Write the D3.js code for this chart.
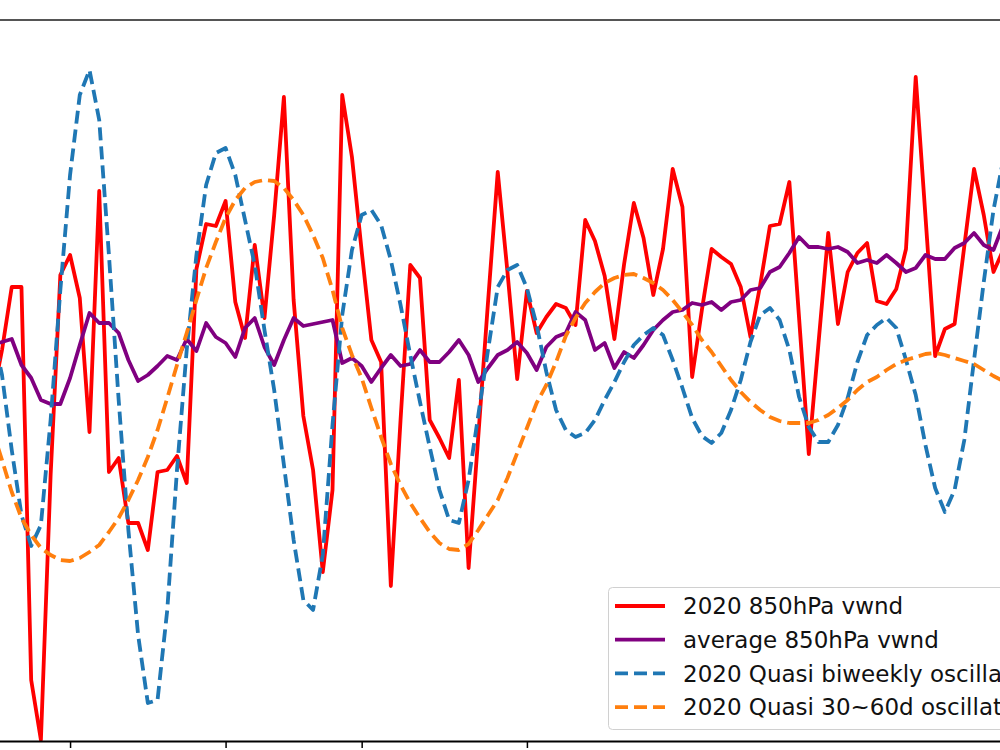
<!DOCTYPE html>
<html>
<head>
<meta charset="utf-8">
<script src="https://cdn.jsdelivr.net/npm/d3@7"></script>
<style>
  body { margin: 0; background: #fff; }
  svg { display: block; font-family: "DejaVu Sans", sans-serif; }
</style>
</head>
<body>
<div id="chart"></div>
<script>
// daily series, index = day number in the plotted window
const vwnd2020 = [-2.0, 3.0, 9.3, 9.3, -30.0, -36.0, -9.5, 10.5, 12.5, 8.2,
  -5.2, 18.9, -9.2, -7.8, -14.3, -14.3, -17.0, -9.2, -9.0, -7.6,
  -10.3, 11.1, 15.6, 15.4, 17.9, 7.8, 4.2, 13.5, 6.2, 16.5,
  28.3, 8.0, -3.6, -9.0, -19.2, -11.0, 28.5, 22.3, 12.9, 4.0,
  1.8, -20.6, -4.0, 11.5, 10.2, -4.0, -5.8, -7.8, 0.0, -18.8,
  -5.6, 7.8, 20.8, 10.8, 0.1, 8.9, 4.7, 6.3, 7.6, 7.2,
  5.5, 16.0, 13.9, 10.4, 4.1, 11.6, 17.7, 14.2, 8.5, 13.1,
  21.1, 17.3, 0.3, 7.0, 13.1, 12.3, 11.6, 9.3, 4.3, 9.5,
  15.4, 15.6, 19.8, 6.2, -7.4, 3.7, 14.7, 5.6, 10.8, 12.7,
  13.7, 7.9, 7.6, 9.1, 13.1, 30.3, 16.4, 2.4, 5.1, 5.6,
  13.4, 21.1, 16.5, 10.8, 13.0];

const vwndAverage = [3.5, 3.8, 4.1, 1.5, 0.2, -2.0, -2.4, -2.4, 0.2, 3.5,
  6.7, 5.7, 5.7, 4.7, 2.0, -0.1, 0.5, 1.4, 2.4, 2.0,
  4.1, 2.9, 5.7, 4.3, 3.7, 2.3, 5.2, 6.2, 3.3, 1.5,
  4.0, 6.2, 5.4, 5.6, 5.8, 6.0, 1.7, 2.2, 1.4, -0.2,
  1.2, 2.5, 1.4, 1.6, 3.0, 1.8, 1.8, 2.8, 4.0, 2.5,
  -0.2, 1.2, 2.5, 3.0, 3.8, 2.7, 1.0, 3.3, 4.3, 4.7,
  6.8, 6.0, 3.0, 3.7, 1.2, 2.8, 2.2, 3.5, 5.0, 6.0,
  6.8, 7.0, 7.7, 7.5, 7.8, 7.0, 7.8, 8.0, 9.0, 9.2,
  10.8, 11.3, 12.7, 14.3, 13.3, 13.3, 13.1, 13.3, 12.8, 11.7,
  12.0, 11.7, 12.5, 11.7, 10.8, 11.2, 12.5, 12.1, 12.1, 13.2,
  13.7, 14.7, 13.5, 13.0, 15.5];

const quasiBiweekly = [5.0, 0.5, -7.0, -13.5, -16.6, -14.5, -4.0, 9.0, 20.5, 28.5,
  31.0, 26.0, 12.5, -2.0, -15.0, -25.5, -32.3, -32.0, -23.0, -9.0,
  3.0, 12.5, 19.5, 22.7, 23.2, 20.5, 16.0, 11.5, 5.0, -1.0,
  -8.5, -16.0, -22.0, -23.0, -17.5, -4.5, 6.5, 13.0, 16.5, 17.0,
  15.5, 12.0, 7.5, 2.5, -2.2, -6.7, -11.0, -14.0, -14.3, -10.0,
  -3.5, 3.0, 9.3, 11.0, 11.5, 9.2, 5.5, 0.8, -3.0, -5.0,
  -5.7, -5.3, -4.0, -2.0, -0.2, 1.8, 3.5, 4.5, 5.2, 4.5,
  2.0, -0.8, -3.8, -5.6, -6.3, -5.3, -3.0, 0.0, 3.8, 6.5,
  7.2, 6.0, 3.0, -1.7, -4.7, -6.2, -6.2, -4.5, -1.8, 1.8,
  4.5, 5.5, 6.2, 5.2, 2.0, -1.5, -6.5, -10.8, -13.2, -11.0,
  -6.0, 2.0, 9.8, 17.0, 22.0];

const quasi3060 = [-5.0, -8.0, -11.2, -13.8, -15.5, -16.8, -17.5, -18.0, -18.1, -17.8,
  -17.2, -16.5, -15.2, -13.8, -12.0, -10.0, -7.7, -5.0, -1.8, 1.5,
  4.7, 8.0, 11.2, 13.8, 16.2, 18.0, 19.2, 19.8, 20.0, 19.9,
  19.2, 18.0, 16.5, 14.5, 12.2, 9.0, 5.2, 2.5, 0.2, -2.8,
  -5.7, -8.4, -10.5, -12.3, -13.8, -15.2, -16.3, -16.9, -17.0, -16.4,
  -15.0, -13.5, -12.0, -9.8, -7.3, -4.8, -2.3, -0.5, 1.8, 4.4,
  6.2, 7.7, 8.8, 9.7, 10.2, 10.5, 10.6, 10.2, 9.7, 9.0,
  8.0, 6.8, 5.5, 4.0, 2.8, 1.4, 0.0, -1.2, -2.2, -3.0,
  -3.7, -4.1, -4.3, -4.3, -4.3, -4.0, -3.5, -2.8, -2.0, -1.0,
  -0.2, 0.3, 1.0, 1.6, 2.0, 2.3, 2.6, 2.7, 2.5, 2.2,
  1.9, 1.6, 1.0, 0.4, -0.1];

const tickDays = [8, 24, 38, 55];

const labels = ["2020 850hPa vwnd", "average 850hPa vwnd",
                "2020 Quasi biweekly oscillation", "2020 Quasi 30~60d oscillation"];

const width = 1000, height = 750;

const svg = d3.select("#chart")
              .append("svg")
              .attr("width", width)
              .attr("height", height);

svg.append("rect").attr("width", width).attr("height", height).attr("fill", "#fff");

const x = d3.scaleLinear().domain([0, 104]).range([-7.7, 1003.2]);
const y = d3.scaleLinear().domain([-36, 36]).range([740, 20]);

const series = [
    { values: vwnd2020, color: "#ff0000", dash: null },
    { values: vwndAverage, color: "#800080", dash: null },
    { values: quasiBiweekly, color: "#1f77b4", dash: "13,6" },
    { values: quasi3060, color: "#ff7f0e", dash: "13,6" }
];

const line = d3.line()
               .x((d, i) => x(i))
               .y(d => y(d));

series.forEach(s => {
    svg.append("path")
       .datum(s.values)
       .attr("fill", "none")
       .attr("stroke", s.color)
       .attr("stroke-width", 3.8)
       .attr("stroke-linejoin", "round")
       .attr("stroke-dasharray", s.dash)
       .attr("d", line);
});

// top spine
svg.append("line")
   .attr("x1", 0).attr("x2", width)
   .attr("y1", 20).attr("y2", 20)
   .attr("stroke", "#555")
   .attr("stroke-width", 2);

// bottom axis
const xAxis = d3.axisBottom(x)
                .tickValues(tickDays)
                .tickFormat("")
                .tickSize(7)
                .tickSizeOuter(0);

const gx = svg.append("g")
              .attr("transform", "translate(0,741)")
              .call(xAxis);
gx.select(".domain").attr("stroke", "#000").attr("stroke-width", 2);
gx.selectAll(".tick line").attr("stroke", "#000").attr("stroke-width", 1.5);

// legend
const legend = svg.append("g").attr("transform", "translate(608,587)");

legend.append("rect")
      .attr("x", 0.5).attr("y", 0.5)
      .attr("width", 420).attr("height", 142)
      .attr("rx", 4)
      .attr("fill", "#fff")
      .attr("fill-opacity", 0.85)
      .attr("stroke", "#d0d0d0")
      .attr("stroke-width", 1);

series.forEach((s, i) => {
    const yy = 19 + i * 33.7;
    legend.append("line")
          .attr("x1", 7).attr("x2", 57)
          .attr("y1", yy).attr("y2", yy)
          .attr("stroke", s.color)
          .attr("stroke-width", 3.8)
          .attr("stroke-dasharray", s.dash);
    legend.append("text")
          .attr("x", 75)
          .attr("y", yy)
          .attr("dy", "0.36em")
          .attr("font-size", 23)
          .attr("fill", "#111")
          .text(labels[i]);
});
</script>
</body>
</html>
